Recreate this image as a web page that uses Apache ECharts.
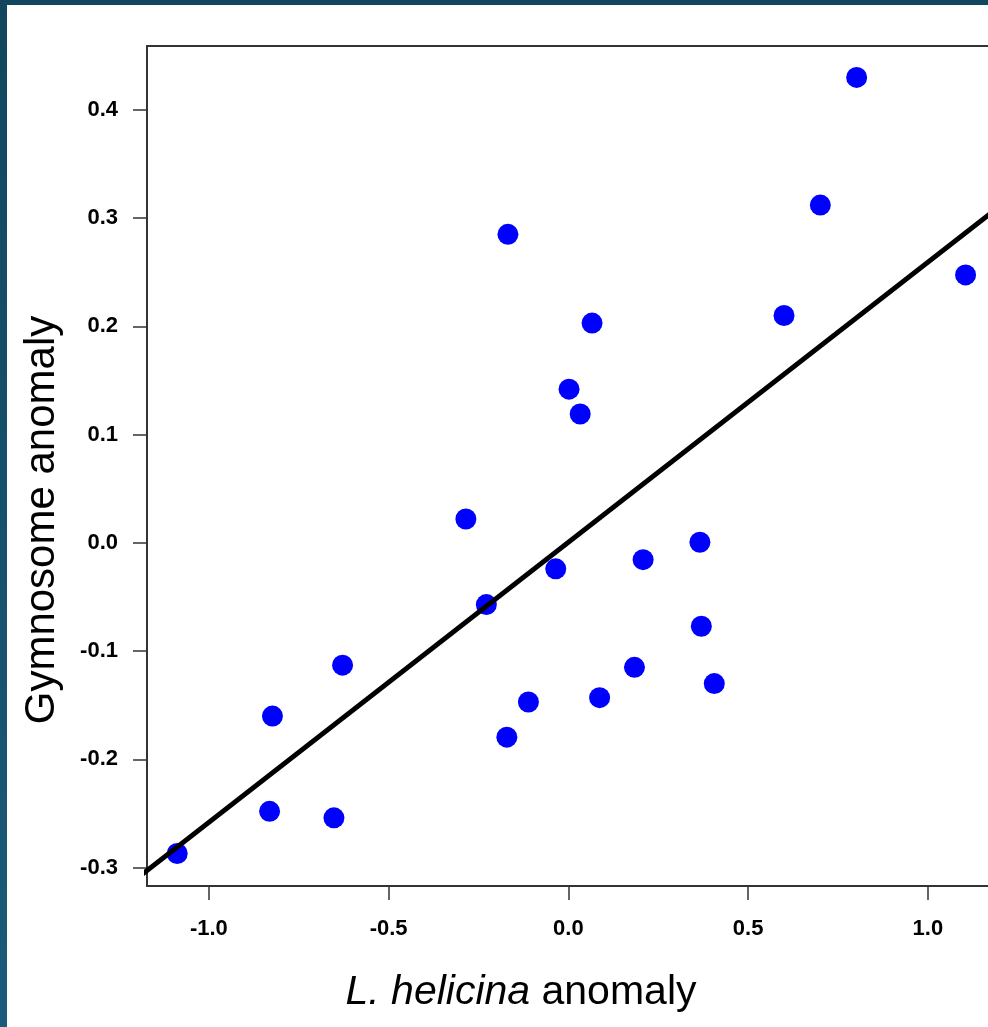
<!DOCTYPE html>
<html>
<head>
<meta charset="utf-8">
<script src="https://cdn.jsdelivr.net/npm/echarts@6/dist/echarts.min.js"></script>
<style>
  html, body { margin: 0; padding: 0; background: #ffffff; }
  #chart { width: 988px; height: 1027px; }
</style>
</head>
<body>
<div id="chart"></div>
<script>
// L. helicina anomaly (x) vs Gymnosome anomaly (y)
var xVals = [0.802, 0.701, -0.168, 1.105, 0.600, 0.066, 0.002, 0.033, -0.285, 0.366, -0.035, 0.208,
             -0.228, 0.370, -0.628, 0.184, 0.406, -0.111, 0.087, -0.823, -0.171, -0.831, -0.652, -1.088];
var yVals = [0.430, 0.312, 0.285, 0.2475, 0.210, 0.203, 0.142, 0.119, 0.022, 0.0006, -0.024, -0.0155,
             -0.057, -0.077, -0.113, -0.115, -0.130, -0.147, -0.143, -0.160, -0.1795, -0.248, -0.254, -0.287];
// regression line end points
var fitX = [-1.2, 1.2];
var fitY = [-0.3100, 0.3110];
// tick labels
var xTicks = [-1.0, -0.5, 0.0, 0.5, 1.0];
var yTicks = [-0.3, -0.2, -0.1, 0.0, 0.1, 0.2, 0.3, 0.4];

var points = xVals.map(function (x, i) { return [x, yVals[i]]; });
var fitLine = fitX.map(function (x, i) { return [x, fitY[i]]; });

var FONT = '"Liberation Sans", Arial, Helvetica, sans-serif';
var chart = echarts.init(document.getElementById('chart'), null, { renderer: 'canvas' });

var tickLabel = {
  show: true,
  color: '#000000',
  fontFamily: FONT,
  fontWeight: 'bold',
  fontSize: 22,
  formatter: function (v) { return Number(v).toFixed(1); }
};
var tickStyle = { show: true, inside: false, length: 14, lineStyle: { color: '#333333', width: 1.5 } };
var boxLine = { show: true, onZero: false, lineStyle: { color: '#333333', width: 2 } };

chart.setOption({
  animation: false,
  backgroundColor: '#ffffff',
  grid: {
    left: 147, top: 46, right: 0, bottom: 141,
    show: false, containLabel: false
  },
  xAxis: [{
    type: 'value', min: -1.172, max: 1.1674, position: 'bottom',
    axisLine: boxLine,
    splitLine: { show: false },
    axisTick: Object.assign({ customValues: xTicks }, tickStyle),
    axisLabel: Object.assign({ customValues: xTicks, margin: 32 }, tickLabel)
  }, {
    type: 'value', min: -1.172, max: 1.1674, position: 'top',
    axisLine: boxLine,
    splitLine: { show: false },
    axisTick: { show: false },
    axisLabel: { show: false }
  }],
  yAxis: {
    type: 'value', min: -0.317, max: 0.459, position: 'left',
    axisLine: boxLine,
    splitLine: { show: false },
    axisTick: Object.assign({ customValues: yTicks }, tickStyle),
    axisLabel: Object.assign({ customValues: yTicks, margin: 29 }, tickLabel)
  },
  series: [
    {
      type: 'scatter',
      data: points,
      symbol: 'circle',
      symbolSize: 21,
      itemStyle: { color: '#0000ff', opacity: 1 },
      z: 2
    },
    {
      type: 'line',
      data: fitLine,
      symbol: 'none',
      clip: true,
      lineStyle: { color: '#000000', width: 5 },
      z: 3
    }
  ],
  graphic: [
    { type: 'rect', left: 0, top: 0, shape: { width: 988, height: 5 }, style: { fill: '#12465f' }, z: 100 },
    { type: 'rect', left: 0, top: 0, shape: { width: 7, height: 1027 },
      style: { fill: new echarts.graphic.LinearGradient(0, 0, 0, 1, [
        { offset: 0, color: '#12465f' }, { offset: 1, color: '#1a5a7a' }]) }, z: 100 },
    {
      type: 'text', x: 42, y: 520, rotation: Math.PI / 2,
      style: {
        text: 'Gymnosome anomaly', fill: '#000000', fontFamily: FONT, fontSize: 42,
        align: 'center', verticalAlign: 'middle'
      }
    },
    {
      type: 'text', x: 521, y: 993,
      style: {
        text: '{i|L. helicina} anomaly', fill: '#000000', fontFamily: FONT, fontSize: 41,
        align: 'center', verticalAlign: 'middle',
        rich: { i: { fontStyle: 'italic', fontFamily: FONT, fontSize: 41, fill: '#000000' } }
      }
    }
  ]
});
</script>
</body>
</html>
